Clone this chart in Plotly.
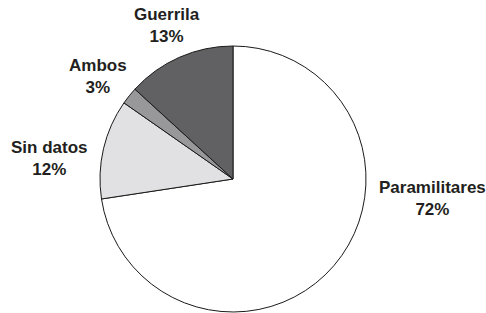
import plotly.graph_objects as go

# Data
categories = ["Paramilitares", "Sin datos", "Ambos", "Guerrila"]
slice_values = [72.6, 12.1, 2.1, 13.2]
pct_labels = ["72%", "12%", "3%", "13%"]

# Styles / positions (kept separate from data)
colors = ["#ffffff", "#e1e1e3", "#98989b", "#616163"]
W, H = 486, 313
cx, cy, r = 233, 179, 133
label_px = [(432, 198.5), (49, 158), (98, 76), (167, 25)]

fig = go.Figure(go.Pie(
    labels=categories,
    values=slice_values,
    sort=False,
    direction="clockwise",
    rotation=0,
    textinfo="none",
    hoverinfo="label+percent",
    marker=dict(colors=colors, line=dict(color="#1a1a1a", width=1)),
    showlegend=False,
    domain=dict(x=[(cx - r) / W, (cx + r) / W],
                y=[(H - cy - r) / H, (H - cy + r) / H]),
))

for cat, pct, (px, py) in zip(categories, pct_labels, label_px):
    fig.add_annotation(
        x=px / W, y=(H - py) / H, xref="paper", yref="paper",
        xanchor="center", yanchor="middle", showarrow=False,
        text=f"<b>{cat}<br>{pct}</b>", align="center",
        font=dict(family="Liberation Sans, Arial, sans-serif", size=17, color="#231f20"),
    )

fig.update_layout(
    width=W, height=H,
    margin=dict(l=0, r=0, t=0, b=0),
    paper_bgcolor="white", plot_bgcolor="white",
)

fig.write_html(
    "out.html",
    config={"displayModeBar": False},
    post_script="document.body.style.margin='0';document.body.style.overflow='hidden';",
)
